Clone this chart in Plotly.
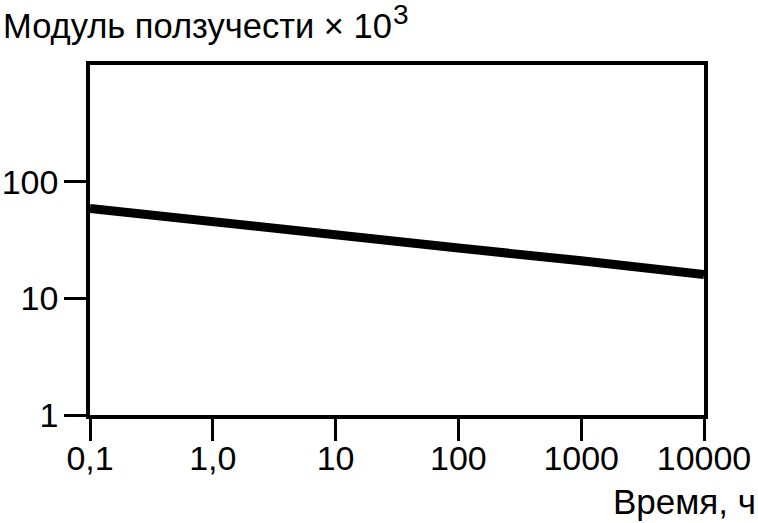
import plotly.graph_objects as go

# Creep modulus vs time (log-log)
time_h = [0.1, 1, 10, 100, 1000, 10000]
modulus = [59, 45, 35, 27, 21, 16]

x_tickvals = [0.1, 1, 10, 100, 1000, 10000]
x_ticktext = ['0,1', '1,0', '10', '100', '1000', '10000']
y_tickvals = [1, 10, 100]
y_ticktext = ['1', '10', '100']

FONT = 'Liberation Sans'
W, H = 758, 523
ML, MR, MT, MB = 90, 54, 65, 108
PW = W - ML - MR
PH = H - MT - MB


def px_x(p):
    # figure pixel -> paper x
    return (p - ML) / PW


def px_y(p):
    # figure pixel (from top) -> paper y
    return (H - MB - p) / PH


fig = go.Figure()
fig.add_trace(go.Scatter(
    x=time_h, y=modulus, mode='lines',
    line=dict(color='black', width=9),
    hoverinfo='skip'
))

axis_common = dict(
    type='log', showgrid=False, zeroline=False, automargin=False,
    showline=True, linecolor='black', linewidth=3.5, mirror=True,
    ticks='outside', ticklen=22, tickwidth=3, tickcolor='black',
    tickfont=dict(family=FONT, size=34, color='black'),
)

fig.update_layout(
    width=W, height=H,
    margin=dict(l=ML, r=MR, t=MT, b=MB),
    paper_bgcolor='white', plot_bgcolor='white',
    showlegend=False,
    xaxis=dict(range=[-1, 4], tickvals=x_tickvals, ticktext=x_ticktext,
               ticklabelstandoff=-12, **axis_common),
    yaxis=dict(range=[0, 3], tickvals=y_tickvals, ticktext=y_ticktext,
               ticklabelstandoff=-1, **axis_common),
    annotations=[
        dict(text='Модуль ползучести × 10',
             xref='paper', yref='paper', x=px_x(1), y=px_y(5),
             xanchor='left', yanchor='top', showarrow=False,
             font=dict(family=FONT, size=34.5, color='black')),
        # superscript drawn on its own so it can sit near full size
        dict(text='3',
             xref='paper', yref='paper', x=px_x(392), y=px_y(-2),
             xanchor='left', yanchor='top', showarrow=False, borderpad=0,
             font=dict(family=FONT, size=28, color='black')),
        dict(text='Время, ч',
             xref='paper', yref='paper', x=px_x(W), y=px_y(480),
             xanchor='right', yanchor='top', showarrow=False,
             font=dict(family=FONT, size=35, color='black')),
    ],
)

fig.write_html('out.html', config=dict(displayModeBar=False),
               post_script="document.body.style.margin='0';")
